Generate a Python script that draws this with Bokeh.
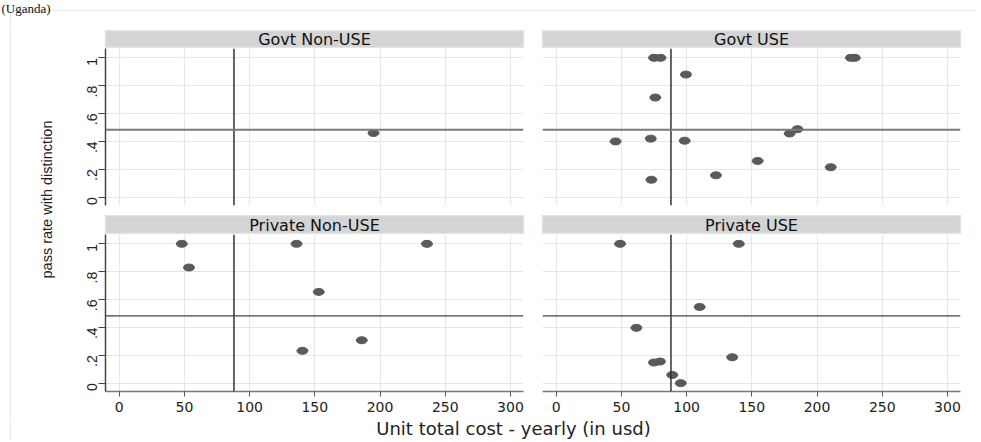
from math import pi
from bokeh.plotting import figure
from bokeh.layouts import row, column
from bokeh.models import Span, FixedTicker, Range1d
from bokeh.core.properties import value
from bokeh.embed import file_html
from bokeh.resources import INLINE

# ---------------- data ----------------
panel_titles = ["Govt Non-USE", "Govt USE", "Private Non-USE", "Private USE"]
graph_title = "(Uganda)"

govt_nonuse_cost = [195]
govt_nonuse_rate = [0.46]

govt_use_cost = [75, 80, 226, 229, 99.5, 76, 185, 179, 45.5, 72.5, 98.5, 154.5, 210.5, 122.5, 73]
govt_use_rate = [1.0, 1.0, 1.0, 1.0, 0.88, 0.715, 0.488, 0.457, 0.40, 0.42, 0.405, 0.26, 0.215, 0.157, 0.125]

priv_nonuse_cost = [48, 136, 236, 53.5, 153, 186, 140.5]
priv_nonuse_rate = [1.0, 1.0, 1.0, 0.83, 0.655, 0.308, 0.232]

priv_use_cost = [49, 140, 110, 61.5, 135, 75, 79.5, 89, 95.5]
priv_use_rate = [1.0, 1.0, 0.547, 0.397, 0.186, 0.148, 0.155, 0.059, 0.0]

mean_cost = 88
mean_rate = 0.483

x_ticks = [0, 50, 100, 150, 200, 250, 300]
y_ticks = [0, 0.2, 0.4, 0.6, 0.8, 1.0]
y_tick_labels = ["0", ".2", ".4", ".6", ".8", "1"]

x_title = "Unit total cost - yearly (in usd)"
y_title = "pass rate with distinction"

# ---------------- styling ----------------
FRAME_W = 418
FRAME_H = 157
L_LEFT, L_RIGHT = 40, 9
R_LEFT, R_RIGHT = 10, 15
MARK = "#5a5a5a"
GRID = "#e6e6e6"
BORDER = "#ececec"
TOTAL_W = 975
HEADER_H = 30
YLAB_W = 65
BOTTOM_B = 28
FOOTER_H = 21


def strip(title, left, right, h):
    s = figure(width=left + FRAME_W + right, height=h, x_range=(0, 1), y_range=(0, 1),
               min_border_left=left, min_border_right=right, min_border_top=0, min_border_bottom=0,
               x_axis_location=None, y_axis_location=None,
               toolbar_location=None, output_backend="svg")
    s.grid.visible = False
    s.background_fill_color = "#d4d4d4"
    s.outline_line_color = "#dce6e9"
    s.outline_line_width = 1.5
    s.text(x=[0.5], y=[0.5], text=[title], text_align="center", text_baseline="middle",
           text_font=value("DejaVu Sans"), text_font_size="16px", text_color="#111111")
    return s


def panel(cost, rate, left, right, bottom, show_x, show_y, hcolor, hwidth):
    p = figure(width=left + FRAME_W + right, height=FRAME_H + bottom,
               x_range=Range1d(-10.5, 310), y_range=Range1d(-0.06, 1.067),
               min_border_left=left, min_border_right=right, min_border_top=0,
               min_border_bottom=bottom,
               x_axis_location="below" if show_x else None,
               y_axis_location="left" if show_y else None,
               toolbar_location=None, output_backend="svg")
    p.outline_line_color = None
    p.xgrid.ticker = FixedTicker(ticks=x_ticks)
    p.ygrid.ticker = FixedTicker(ticks=y_ticks)
    p.grid.grid_line_color = GRID
    p.grid.grid_line_width = 1.2
    if show_x:
        ax = p.xaxis[0]
        ax.ticker = FixedTicker(ticks=x_ticks)
        ax.major_tick_out = 5
        ax.major_tick_in = 0
        ax.minor_tick_line_color = None
        ax.axis_line_color = "#777777"
        ax.axis_line_width = 1.5
        ax.major_tick_line_color = "#555555"
        ax.major_label_standoff = 5
        ax.major_label_text_font = "DejaVu Sans"
        ax.major_label_text_font_size = "14px"
        ax.major_label_text_color = "#222222"
    if show_y:
        ay = p.yaxis[0]
        ay.ticker = FixedTicker(ticks=y_ticks)
        ay.major_label_overrides = {t: l for t, l in zip(y_ticks, y_tick_labels)}
        ay.major_label_orientation = pi / 2
        ay.major_tick_out = 7
        ay.major_tick_in = 0
        ay.minor_tick_line_color = None
        ay.axis_line_color = "#444444"
        ay.axis_line_width = 1.5
        ay.major_tick_line_color = "#444444"
        ay.major_label_standoff = 6
        ay.major_label_text_font = "Liberation Sans"
        ay.major_label_text_font_size = "14px"
        ay.major_label_text_color = "#222222"
    p.add_layout(Span(location=mean_cost, dimension="height", line_color="#333333", line_width=1.5))
    p.add_layout(Span(location=mean_rate, dimension="width", line_color=hcolor, line_width=hwidth))
    p.ellipse(x=cost, y=rate, width=11, height=7, width_units="screen", height_units="screen",
              fill_color=MARK, line_color=MARK)
    return p


def blank(w, h):
    f = figure(width=w, height=h, x_range=Range1d(0, w), y_range=Range1d(0, h),
               min_border_left=0, min_border_right=0, min_border_top=0, min_border_bottom=0,
               x_axis_location=None, y_axis_location=None,
               toolbar_location=None, output_backend="svg")
    f.grid.visible = False
    f.outline_line_color = None
    return f


# header: graph title and the outer border
header = blank(TOTAL_W, HEADER_H)
header.line(x=[10, TOTAL_W], y=[HEADER_H - 10, HEADER_H - 10], line_color=BORDER, line_width=1.5)
header.line(x=[10, 10], y=[0, HEADER_H - 10], line_color=BORDER, line_width=1.5)
header.text(x=[1], y=[HEADER_H], text=[graph_title], text_align="left",
            text_baseline="top", text_font=value("Liberation Serif"),
            text_font_size="13px", text_color="#111111")

ROW_H = 18 + (FRAME_H + 10) + 19 + (FRAME_H + BOTTOM_B)
ylab = blank(YLAB_W, ROW_H)
ylab.line(x=[10, 10], y=[0, ROW_H], line_color=BORDER, line_width=1.5)
ylab.text(x=[46], y=[ROW_H - (199 - HEADER_H)], text=[y_title], angle=pi / 2,
          text_align="center", text_baseline="middle", text_font=value("Liberation Sans"),
          text_font_size="14.5px", text_color="#222222")

tl = panel(govt_nonuse_cost, govt_nonuse_rate, L_LEFT, L_RIGHT, 10, False, True, "#7a7a7a", 2)
tr = panel(govt_use_cost, govt_use_rate, R_LEFT, R_RIGHT, 10, False, False, "#7a7a7a", 2)
bl = panel(priv_nonuse_cost, priv_nonuse_rate, L_LEFT, L_RIGHT, BOTTOM_B, True, True, "#444444", 1.2)
br = panel(priv_use_cost, priv_use_rate, R_LEFT, R_RIGHT, BOTTOM_B, True, False, "#444444", 1.2)

left_col = column(strip(panel_titles[0], L_LEFT, L_RIGHT, 18), tl,
                  strip(panel_titles[2], L_LEFT, L_RIGHT, 19), bl, spacing=0)
right_col = column(strip(panel_titles[1], R_LEFT, R_RIGHT, 18), tr,
                   strip(panel_titles[3], R_LEFT, R_RIGHT, 19), br, spacing=0)

footer = blank(TOTAL_W, FOOTER_H)
footer.line(x=[10, 10], y=[0, FOOTER_H], line_color=BORDER, line_width=1.5)
footer.text(x=[513], y=[FOOTER_H - 9], text=[x_title], text_align="center", text_baseline="middle",
            text_font=value("DejaVu Sans"), text_font_size="18px", text_color="#222222")

layout = column(header, row(ylab, left_col, right_col, spacing=0), footer, spacing=0)

open("out.html", "w").write(file_html(layout, INLINE))
